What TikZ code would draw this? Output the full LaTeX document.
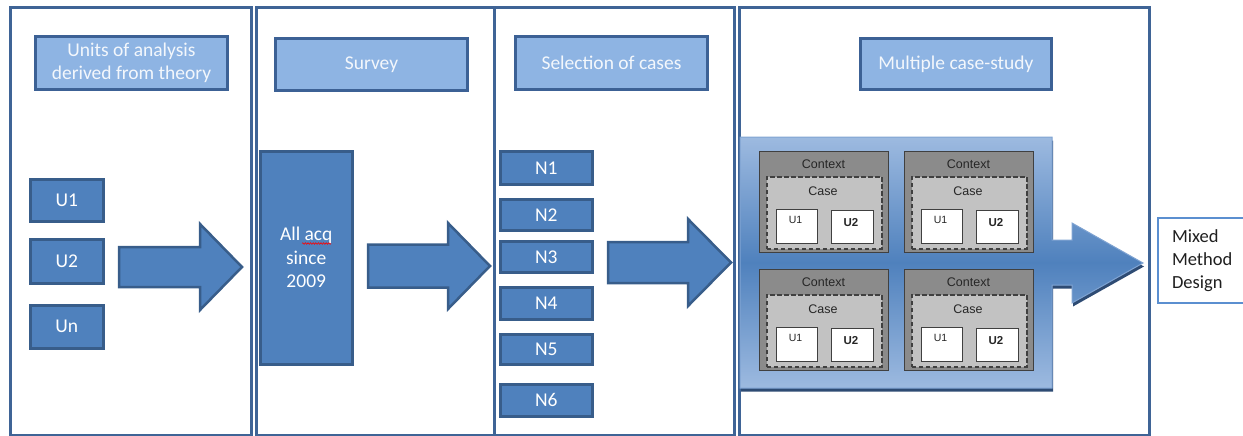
\documentclass[tikz,border=0pt]{standalone}
\usepackage{fontspec}
\setmainfont{Carlito}
\newfontfamily\arialf{Liberation Sans}
\usetikzlibrary{decorations.pathmorphing}

\definecolor{panelline}{HTML}{3F6496}
\definecolor{headfill}{HTML}{8EB4E3}
\definecolor{headline}{HTML}{3C6195}
\definecolor{boxfill}{HTML}{4F81BD}
\definecolor{boxline}{HTML}{385D8A}
\definecolor{headtext}{HTML}{F3F7FC}
\definecolor{lightband}{HTML}{9DBAE0}
\definecolor{bandline}{HTML}{7FA3D2}
\definecolor{shadowc}{HTML}{2E4B73}
\definecolor{ctxfill}{HTML}{8B8B8B}
\definecolor{ctxline}{HTML}{404040}
\definecolor{casefill}{HTML}{C2C2C2}
\definecolor{ctxtext}{HTML}{262626}
\definecolor{mixline}{HTML}{5B8FD0}

\tikzset{
  panel/.style={draw=panelline, line width=3pt, anchor=north west, inner sep=0pt},
  header/.style={draw=headline, fill=headfill, line width=3pt, text=headtext,
    font=\fontsize{19.5}{23}\selectfont, align=center, inner sep=0pt, anchor=north west},
  unit/.style={draw=boxline, fill=boxfill, line width=2.5pt, text=white,
    font=\fontsize{19.5}{23.5}\selectfont, align=center, inner sep=0pt, anchor=north west},
  fatarrowstyle/.style={draw=boxline, fill=boxfill, line width=2.5pt, line join=miter},
  ctx/.style={draw=ctxline, fill=ctxfill, line width=1.2pt, anchor=north west, inner sep=0pt,
    minimum width=129pt, minimum height=101pt},
  casebox/.style={draw=ctxline, fill=casefill, line width=1.5pt, dash pattern=on 4.5pt off 2.5pt,
    anchor=north west, inner sep=0pt, minimum width=115pt, minimum height=72pt},
  ubox/.style={draw=ctxline, fill=white, line width=1pt, anchor=north west, inner sep=0pt},
  ctxlabel/.style={text=ctxtext, font=\arialf\fontsize{12.5}{14}\selectfont, inner sep=0pt},
  mixbox/.style={draw=mixline, fill=white, line width=2pt, anchor=north west,
    font=\fontsize{18.5}{23}\selectfont, text=black!88, align=left, text width=92pt,
    inner xsep=14pt, inner ysep=0pt, minimum height=85pt}
}

% block arrow: start x, shoulder x, tip x, centre y, half shaft, half head
\newcommand\fatarrow[6]{%
  \filldraw[fatarrowstyle] (#1,#4-#5) -- (#2,#4-#5) -- (#2,#4-#6) -- (#3,#4)
    -- (#2,#4+#6) -- (#2,#4+#5) -- (#1,#4+#5) -- cycle;}

\begin{document}
\begin{tikzpicture}[x=1pt,y=-1pt]
\useasboundingbox (0,0) rectangle (1243,436);

% the four stage panels
\node[panel, minimum width=241pt, minimum height=428pt] (p1) at (9,6) {};
\node[panel, minimum width=238pt, minimum height=428pt] (p2) at (255,6) {};
\node[panel, minimum width=240pt, minimum height=428pt] (p3) at (493,6) {};
\node[panel, minimum width=410pt, minimum height=428pt] (p4) at (738,6) {};

% stage headers
\node[header, minimum width=192pt, minimum height=53pt] (h1) at (34,35) {Units of analysis\\derived from theory};
\node[header, minimum width=192pt, minimum height=52pt] (h2) at (274,37) {Survey};
\node[header, minimum width=192pt, minimum height=53pt] (h3) at (514,35) {Selection of cases};
\node[header, minimum width=191pt, minimum height=51pt] (h4) at (859,37) {Multiple case-study};

% units of analysis
\node[unit, minimum width=73pt, minimum height=42pt] (u1) at (29,178) {U1};
\node[unit, minimum width=73pt, minimum height=44pt] (u2) at (29,238) {U2};
\node[unit, minimum width=73pt, minimum height=43pt] (un) at (29,304) {Un};

% survey population
\node[unit, minimum width=92pt, minimum height=213pt] (acq) at (259,150) {All acq\\since\\2009};
\draw[red, line width=0.6pt, decorate, decoration={snake, amplitude=0.8pt, segment length=2.6pt}]
  (302,243.5) -- (331,243.5);

% selected cases
\node[unit, minimum width=92pt, minimum height=33pt] (n1) at (499,150) {N1};
\node[unit, minimum width=92pt, minimum height=31pt] (n2) at (499,198) {N2};
\node[unit, minimum width=92pt, minimum height=31pt] (n3) at (499,240) {N3};
\node[unit, minimum width=92pt, minimum height=32pt] (n4) at (499,286) {N4};
\node[unit, minimum width=92pt, minimum height=30pt] (n5) at (499,333) {N5};
\node[unit, minimum width=92pt, minimum height=32pt] (n6) at (499,383) {N6};

% transitions between stages
\fatarrow{119}{200}{242}{267}{20}{43}
\fatarrow{368}{448}{490}{266}{21.5}{43}
\fatarrow{608}{688}{731}{262.5}{20.5}{43.5}

% multiple case-study block with outgoing arrow
\fill[shadowc, shift={(1,3.5)}] (740,137) -- (1052,137) -- (1052,240) -- (1072,240) -- (1072,223)
  -- (1143,263) -- (1072,303) -- (1072,285) -- (1052,285) -- (1052,388) -- (740,388) -- cycle;
\path[top color=lightband, bottom color=lightband, middle color=boxfill, draw=bandline, line width=1pt]
  (740,137) -- (1052,137) -- (1052,240) -- (1072,240) -- (1072,223)
  -- (1143,263) -- (1072,303) -- (1072,285) -- (1052,285) -- (1052,388) -- (740,388) -- cycle;

\foreach \i/\dx/\dy in {1/0/0, 2/145/0, 3/0/118, 4/145/118} {
  \begin{scope}[shift={(759+\dx,151+\dy)}]
    \node[ctx] (ctx\i) at (0,0) {};
    \node[ctxlabel] (ctxlab\i) at (64.5,13) {Context};
    \node[casebox] (case\i) at (7,25) {};
    \node[ctxlabel] (caselab\i) at (64,40) {Case};
    \node[ubox, minimum width=41pt, minimum height=34pt] (cua\i) at (17,58) {};
    \node[ubox, minimum width=42pt, minimum height=33pt] (cub\i) at (72,59) {};
    \node[ctxlabel, font=\arialf\fontsize{10.5}{12}\selectfont] (cual\i) at (36.5,69) {U1};
    \node[ctxlabel, font=\arialf\bfseries\fontsize{11.5}{13}\selectfont] (cubl\i) at (92,72) {U2};
  \end{scope}
}

% outcome
\node[mixbox] (mixed) at (1157,217) {Mixed\\Method\\Design};
\end{tikzpicture}
\end{document}
